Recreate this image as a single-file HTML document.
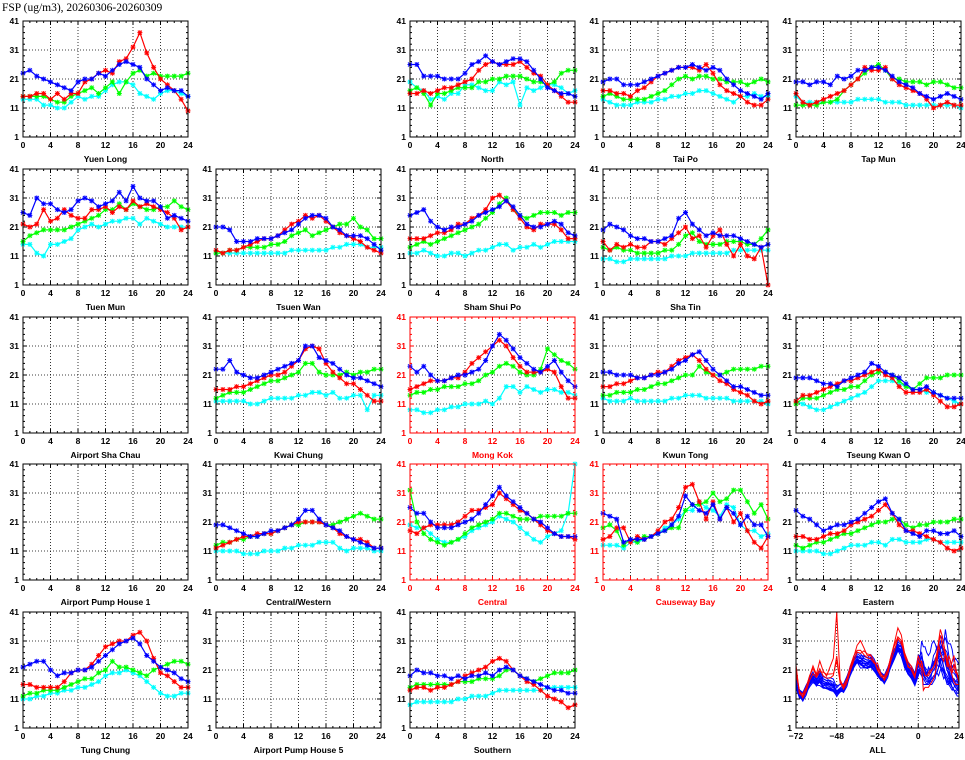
<!DOCTYPE html>
<html><head><meta charset="utf-8"><style>
body{margin:0;background:#fff;width:965px;height:755px;overflow:hidden}
svg text{font-family:"Liberation Sans",sans-serif}
</style></head><body>
<svg id="c" width="965" height="755" xmlns="http://www.w3.org/2000/svg">
<text x="2" y="11" font-size="11.5" style="font-family:'Liberation Serif',serif">FSP (ug/m3), 20260306-20260309</text>
</svg>
<script>
const hours=[0,1,2,3,4,5,6,7,8,9,10,11,12,13,14,15,16,17,18,19,20,21,22,23,24];
const yTicks=[1,11,21,31,41];
const xTicks=[0,4,8,12,16,20,24];
const allTicks=[-72,-48,-24,0,24];
const stationNames=["Yuen Long","North","Tai Po","Tap Mun","Tuen Mun","Tsuen Wan","Sham Shui Po","Sha Tin","Airport Sha Chau","Kwai Chung","Mong Kok","Kwun Tong","Tseung Kwan O","Airport Pump House 1","Central/Western","Central","Causeway Bay","Eastern","Tung Chung","Airport Pump House 5","Southern"];
const redStations=["Mong Kok","Central","Causeway Bay"];
const blueSeries={
"Yuen Long":[23,24,22,21,20,19,18,17,20,21,21,23,22,24,26,27,26,25,21,19,17,18,17,17,15],
"North":[26,26,22,22,22,21,21,21,23,26,27,29,27,26,27,28,28,27,24,21,18,17,16,16,15],
"Tai Po":[20,21,21,19,19,19,20,21,22,23,24,25,25,26,25,24,25,24,21,19,17,16,15,14,16],
"Tap Mun":[20,20,19,20,20,19,22,21,22,24,24,25,25,24,22,20,19,18,16,15,14,15,16,15,14],
"Tuen Mun":[26,25,31,29,29,27,26,27,30,31,30,28,29,30,33,30,35,31,30,30,28,24,25,24,23],
"Tsuen Wan":[21,21,20,16,16,16,17,17,17,18,19,20,22,24,25,25,24,21,20,18,18,18,17,15,13],
"Sham Shui Po":[25,26,27,23,21,20,21,21,22,23,25,26,27,28,30,28,25,22,21,21,22,23,22,19,18],
"Sha Tin":[20,22,21,20,18,17,17,16,16,17,18,24,26,22,20,18,19,18,18,18,17,16,15,14,15],
"Kwai Chung":[23,23,26,22,21,20,20,21,22,23,24,25,26,31,31,27,26,25,23,21,20,20,19,18,17],
"Mong Kok":[24,22,24,21,19,19,20,21,21,22,23,26,31,35,33,30,27,25,23,22,24,26,22,19,17],
"Kwun Tong":[22,22,21,21,21,20,20,21,21,22,23,25,26,28,29,26,23,21,19,17,17,16,15,14,14],
"Tseung Kwan O":[20,20,20,19,18,18,17,19,20,21,22,25,24,22,21,20,18,16,16,17,15,14,13,13,13],
"Central/Western":[20,20,19,18,17,16,16,17,18,18,19,20,22,25,25,22,20,19,18,16,15,14,13,12,12],
"Central":[26,24,24,21,19,19,19,20,21,22,24,27,30,33,30,28,26,24,22,21,19,17,16,16,16],
"Causeway Bay":[24,23,22,14,15,15,15,16,17,18,20,23,30,27,25,24,27,22,26,24,20,23,20,20,16],
"Eastern":[25,23,22,20,18,19,20,20,21,22,24,26,28,29,24,22,18,17,16,18,18,17,17,18,16],
"Tung Chung":[22,23,24,24,21,19,20,20,21,21,22,24,26,28,30,31,32,30,26,24,22,21,20,18,17],
"Southern":[19,21,20,20,19,19,18,19,18,19,19,20,19,21,22,21,19,18,17,16,15,14,14,13,13]};
const redSeries={
"Yuen Long":[15,15,16,16,14,16,14,16,16,20,21,23,24,23,27,28,32,37,30,25,21,19,17,14,10],
"North":[16,16,17,16,17,18,18,19,20,21,24,26,27,26,26,26,27,25,23,22,19,17,15,13,13],
"Tai Po":[17,17,16,16,15,17,18,20,22,23,24,25,25,25,24,26,23,19,17,16,15,13,12,12,14],
"Tap Mun":[16,13,12,13,14,15,16,17,19,21,25,24,24,25,21,19,18,17,16,14,11,12,13,12,12],
"Tuen Mun":[22,21,22,27,23,24,27,25,24,24,27,27,28,26,28,27,30,28,29,28,27,26,24,20,21],
"Tsuen Wan":[13,12,13,13,14,15,16,17,17,18,20,22,23,25,24,25,23,21,19,18,17,16,14,13,12],
"Sham Shui Po":[17,17,17,18,19,19,20,22,22,24,25,27,31,32,30,27,24,21,20,22,22,22,20,17,17],
"Sha Tin":[16,13,15,14,15,14,14,16,16,15,17,19,21,17,18,14,18,20,15,11,15,11,10,14,1],
"Kwai Chung":[16,16,16,17,17,18,19,20,21,21,22,24,26,30,31,30,25,22,20,18,18,16,14,12,12],
"Mong Kok":[16,17,18,19,19,19,20,20,22,25,27,29,31,33,31,27,24,22,22,22,23,22,17,13,13],
"Kwun Tong":[17,17,18,18,19,20,20,21,22,22,24,26,27,28,26,23,21,19,18,16,15,14,12,11,12],
"Tseung Kwan O":[12,14,14,15,16,17,18,19,19,20,21,22,23,21,20,17,15,15,15,16,14,12,10,10,11],
"Central/Western":[12,13,14,15,16,16,17,17,17,18,19,20,21,21,21,21,20,19,17,16,15,15,14,12,12],
"Central":[18,17,19,20,20,20,20,21,23,25,25,26,27,31,29,27,25,24,22,20,18,17,16,16,15],
"Causeway Bay":[15,16,19,19,14,16,15,16,18,21,22,26,33,34,28,22,28,22,26,21,24,18,14,12,16],
"Eastern":[16,16,15,15,16,17,17,18,20,21,22,23,25,27,24,20,18,18,17,16,15,14,12,11,12],
"Tung Chung":[16,16,15,15,15,15,17,20,21,21,23,26,29,30,31,31,33,34,31,25,20,19,17,15,15],
"Southern":[14,15,15,14,15,15,16,17,19,20,21,22,24,25,24,21,19,17,16,14,12,11,10,8,9]};
const greenSeries={
"Yuen Long":[15,15,15,15,14,13,13,15,16,17,18,16,18,20,16,20,23,24,22,23,22,22,22,22,23],
"North":[17,18,16,12,16,16,17,18,18,18,20,20,21,21,22,22,22,21,20,20,19,20,23,24,24],
"Tai Po":[15,16,15,14,14,14,14,15,16,17,19,21,22,21,22,22,21,21,20,20,20,19,20,21,20],
"Tap Mun":[12,12,12,12,13,13,14,17,19,21,23,25,26,24,21,21,20,20,20,19,20,20,19,18,18],
"Tuen Mun":[16,18,19,20,20,20,20,21,22,23,24,25,27,27,29,27,29,28,27,27,28,28,30,28,27],
"Tsuen Wan":[12,12,13,13,14,14,14,14,15,15,16,18,19,20,18,19,20,21,22,22,24,21,20,17,17],
"Sham Shui Po":[14,15,16,15,16,17,18,19,20,21,22,24,26,29,31,27,25,24,25,26,26,26,25,26,26],
"Sha Tin":[14,13,14,13,13,12,12,12,12,13,13,15,18,19,16,15,15,15,16,16,16,15,15,17,20],
"Kwai Chung":[13,14,15,15,15,16,17,18,19,19,20,21,22,25,25,22,21,21,21,22,21,22,22,23,23],
"Mong Kok":[14,15,15,16,16,17,17,17,18,18,19,21,22,24,25,24,22,21,21,23,30,28,26,25,23],
"Kwun Tong":[14,14,15,15,15,16,16,17,18,18,19,20,21,21,24,22,21,21,22,23,23,23,23,24,24],
"Tseung Kwan O":[11,13,13,13,14,15,16,16,17,17,19,21,22,22,21,19,17,16,18,20,20,20,21,21,21],
"Central/Western":[13,14,14,15,15,16,16,17,17,18,19,20,20,21,21,21,20,20,21,22,23,24,23,22,22],
"Central":[32,21,17,15,14,13,14,15,17,19,20,21,22,24,24,23,22,22,22,23,23,23,23,24,24],
"Causeway Bay":[19,20,18,13,15,14,16,16,17,18,19,19,25,27,27,28,31,28,29,32,32,28,24,27,22],
"Eastern":[13,12,13,14,14,15,16,17,17,18,19,20,21,21,22,22,20,19,20,20,21,21,21,22,22],
"Tung Chung":[12,13,13,14,14,14,15,16,17,18,18,20,21,24,22,22,21,20,19,21,22,23,24,24,23],
"Southern":[15,16,16,16,16,16,16,17,17,17,18,18,18,19,21,21,19,18,17,18,19,20,20,20,21]};
const cyanSeries={
"Yuen Long":[14,14,14,12,12,11,11,13,15,14,15,15,17,19,20,20,19,16,15,14,16,17,17,16,15],
"North":[20,18,17,14,15,14,16,16,19,19,18,17,17,20,19,20,12,18,17,18,19,19,18,16,17],
"Tai Po":[14,13,12,12,12,13,13,13,14,14,15,15,16,16,17,17,16,15,14,13,15,15,16,15,15],
"Tap Mun":[15,13,13,13,13,13,13,13,13,14,14,14,14,13,13,13,12,12,12,12,12,12,12,12,11],
"Tuen Mun":[15,15,12,11,15,15,16,17,20,21,22,21,22,23,23,24,24,22,24,23,22,21,21,21,21],
"Tsuen Wan":[12,12,12,12,12,12,12,12,12,12,12,13,13,13,13,13,13,14,14,15,15,15,14,14,14],
"Sham Shui Po":[12,12,13,12,11,11,12,12,11,12,13,13,14,15,15,13,14,14,15,14,15,16,16,16,16],
"Sha Tin":[10,10,9,9,10,10,10,10,10,10,11,11,11,12,12,12,12,12,12,13,13,13,13,13,13],
"Kwai Chung":[12,12,12,12,12,11,11,12,13,13,13,13,14,14,15,15,14,15,13,13,14,14,9,14,14],
"Mong Kok":[9,9,8,8,9,9,10,10,11,11,11,12,11,13,17,17,15,17,16,15,16,16,15,15,14],
"Kwun Tong":[13,12,12,12,13,12,12,12,12,12,13,13,14,14,14,13,13,13,13,12,12,12,12,12,11],
"Tseung Kwan O":[12,11,10,9,9,10,11,12,13,14,15,17,19,19,19,18,17,16,16,15,15,14,13,12,11],
"Central/Western":[11,11,11,11,10,10,10,11,11,11,12,12,13,13,13,14,14,14,12,11,12,12,12,11,11],
"Central":[20,19,19,17,15,14,14,15,16,18,19,20,21,23,22,21,19,17,15,14,16,17,18,24,41],
"Causeway Bay":[13,13,13,12,14,14,15,16,17,19,20,22,25,25,28,26,25,23,27,26,20,18,18,16,17],
"Eastern":[11,11,11,11,10,10,11,12,13,13,13,14,14,13,15,15,14,14,14,15,15,14,14,14,14],
"Tung Chung":[11,11,12,12,13,13,14,14,15,15,16,17,19,20,20,21,20,19,17,15,13,12,12,13,13],
"Southern":[9,10,10,10,10,10,10,11,11,12,12,12,13,14,14,14,14,14,14,14,15,15,15,15,15]};
const allHours=[-72,-70,-68,-66,-64,-62,-60,-58,-56,-54,-52,-50,-48,-46,-44,-42,-40,-38,-36,-34,-32,-30,-28,-26,-24,-22,-20,-18,-16,-14,-12,-10,-8,-6,-4,-2];
const allProfile=[17,13,12,14,16,17,15,16,15,15,15,15,14,15,15,17,20,22,23,22,22,22,23,22,21,19,18,20,23,25,27,26,22,20,19,17];
const roadsidePeak=[6,0,0,0,2,4,2,5,3,2,4,8,27,3,0,0,0,2,4,6,4,2,0,0,0,0,0,0,2,4,6,4,2,0,0,0];

const slots=[["Yuen Long",0,0],["North",0,2],["Tai Po",0,3],["Tap Mun",0,4],
["Tuen Mun",1,0],["Tsuen Wan",1,1],["Sham Shui Po",1,2],["Sha Tin",1,3],
["Airport Sha Chau",2,0],["Kwai Chung",2,1],["Mong Kok",2,2],["Kwun Tong",2,3],["Tseung Kwan O",2,4],
["Airport Pump House 1",3,0],["Central/Western",3,1],["Central",3,2],["Causeway Bay",3,3],["Eastern",3,4],
["Tung Chung",4,0],["Airport Pump House 5",4,1],["Southern",4,2],["ALL",4,4]];
const colX=[23,216,410,603,796], rowY=[21,169,317,464,612], W=165, H=116;
const svg=document.getElementById('c');
const NS="http://www.w3.org/2000/svg";
function mk(tag,attrs,parent){const e=document.createElementNS(NS,tag);for(const k in attrs)e.setAttribute(k,attrs[k]);(parent||svg).appendChild(e);return e;}
function slug(s){return s.toLowerCase().replace(/[^a-z0-9]+/g,'-').replace(/-$/,'');}
function marker(g,x,y,col){
  const d=`M${x-2.5},${y}h5M${x},${y-2.5}v5M${x-2},${y-2}l4,4M${x-2},${y+2}l4,-4`;
  mk('path',{d:d,stroke:col,'stroke-width':1,fill:'none'},g);
}
slots.forEach(([name,r,c])=>{
  const x0=colX[c],y0=rowY[r];
  const isAll=name==="ALL";
  const red=redStations.includes(name);
  const fc=red?'#f00':'#000';
  const xmin=isAll?-72:0,xmax=24;
  const w=isAll?163:W;
  const sx=v=>x0+(v-xmin)/(xmax-xmin)*w;
  const sy=v=>y0+H-(v-1)/40*H;
  const g=mk('g',{});
  
  
  const xt=isAll?allTicks:xTicks;
  xt.slice(1,-1).forEach(t=>mk('line',{x1:sx(t),x2:sx(t),y1:y0,y2:y0+H,stroke:'#000','stroke-width':0.8,'stroke-dasharray':'1,2'},g));
  [11,21,31].forEach(t=>mk('line',{x1:x0,x2:x0+w,y1:sy(t),y2:sy(t),stroke:'#000','stroke-width':0.8,'stroke-dasharray':'1,2'},g));
  const step=isAll?4:1;
  for(let t=xmin;t<=xmax;t+=step){const L=(t%4===0&&!isAll)||(isAll&&t%24===0)?4:2;
    mk('line',{x1:sx(t),x2:sx(t),y1:y0+H,y2:y0+H-L,stroke:fc},g);mk('line',{x1:sx(t),x2:sx(t),y1:y0,y2:y0+L,stroke:fc},g);}
  for(let v=1;v<=41;v+=2){const L=(v-1)%10===0?4:2;
    mk('line',{x1:x0,x2:x0+L,y1:sy(v),y2:sy(v),stroke:fc},g);mk('line',{x1:x0+w,x2:x0+w-L,y1:sy(v),y2:sy(v),stroke:fc},g);}
  yTicks.forEach(t=>{const e=mk('text',{x:x0-4,y:sy(t)+3,'font-size':8.5,'font-weight':'bold','text-anchor':'end',fill:fc},g);e.textContent=t;});
  xt.forEach(t=>{const e=mk('text',{x:sx(t),y:y0+H+11,'font-size':8.5,'font-weight':'bold','text-anchor':'middle',fill:fc},g);e.textContent=(t<0?'\u2212'+(-t):t);});
  const tl=mk('text',{x:x0+w/2,y:y0+H+25,'font-size':8.5,'font-weight':'bold','text-anchor':'middle',fill:fc},g);
  tl.textContent=name;
  
  
  if(isAll){
    const order=stationNames.filter(s=>blueSeries[s]&&!redStations.includes(s)).concat(redStations);
    order.forEach((st,k)=>{
      const isRed=redStations.includes(st);
      const b=blueSeries[st],gr=greenSeries[st],rd=redSeries[st];
      const off=(b[0]-20)*0.3;
      let pts=allHours.map((h,i)=>{
        const hh=((h%24)+24)%24;
        const src=(k%2?b:rd);
        let v=allProfile[i]+off+(src[hh]-src[(hh+12)%24])*0.12+(gr[hh]-18)*0.12;
        if(isRed) v+=roadsidePeak[i]*(st==="Mong Kok"?1:0.35);
        return [sx(h),sy(Math.max(1,Math.min(41,v)))];
      });
      b.forEach((v,i)=>pts.push([sx(hours[i]),sy(v)]));
      const p=mk('polyline',{points:pts.map(q=>q.join(',')).join(' '),fill:'none',stroke:isRed?'#f00':'#00f','stroke-width':1},g);
      
      
    });
  } else {
    const sets=[[cyanSeries,'#0ff','cyan'],[greenSeries,'#0f0','green'],[redSeries,'#f00','red'],[blueSeries,'#00f','blue']];
    sets.forEach(([S,col,nm])=>{
      const data=S[name];if(!data)return;
      const pts=data.map((v,i)=>[sx(hours[i]),sy(v)]);
      const p=mk('polyline',{points:pts.map(q=>q.join(',')).join(' '),fill:'none',stroke:col,'stroke-width':1.2},g);
      
      
      pts.forEach(q=>marker(g,q[0],q[1],col));
    });
  }
  mk('rect',{x:x0,y:y0,width:w,height:H,fill:'none',stroke:fc,'stroke-width':1},g);
});
</script>
</body></html>
